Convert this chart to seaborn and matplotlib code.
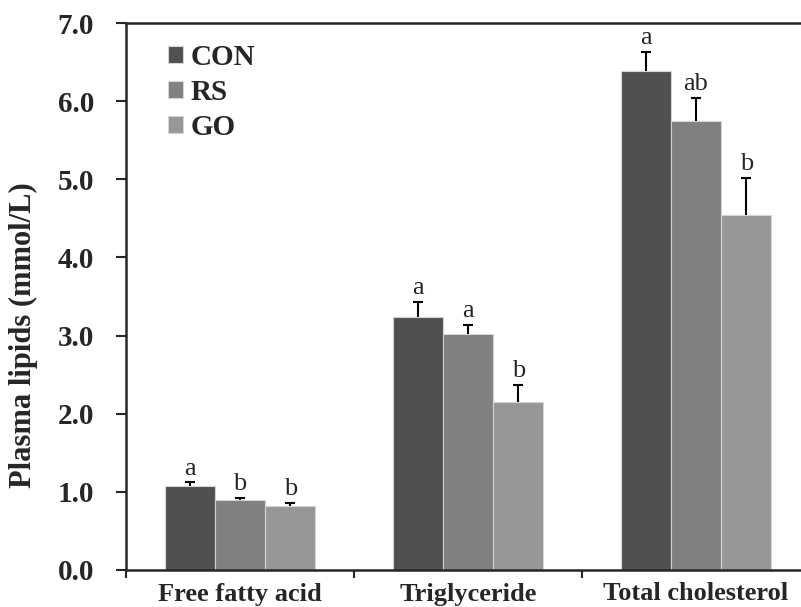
import numpy as np
import pandas as pd
import matplotlib
matplotlib.use('Agg')
import matplotlib.pyplot as plt
import seaborn as sns

lipids = ['Free fatty acid', 'Triglyceride', 'Total cholesterol']
groups = ['CON', 'RS', 'GO']
colors = ['#505050', '#808080', '#979797']

con_mean = [1.07, 3.24, 6.38]
rs_mean = [0.90, 3.02, 5.74]
go_mean = [0.82, 2.15, 4.54]

con_err = [0.05, 0.19, 0.25]
rs_err = [0.02, 0.12, 0.30]
go_err = [0.04, 0.22, 0.48]

con_sig = ['a', 'a', 'a']
rs_sig = ['b', 'a', 'ab']
go_sig = ['b', 'b', 'b']


def main():
    df = pd.DataFrame({
        'lipid': lipids * 3,
        'group': [g for g in groups for _ in lipids],
        'value': con_mean + rs_mean + go_mean,
    })
    errs = [con_err, rs_err, go_err]
    sigs = [con_sig, rs_sig, go_sig]

    sns.set_style('ticks')
    plt.rcParams['font.family'] = ['Liberation Serif', 'DejaVu Serif']

    fig = plt.figure(figsize=(8.01, 6.07), dpi=100)
    ax = fig.add_axes([126 / 801, 37 / 607, 684 / 801, 547 / 607])

    sns.barplot(data=df, x='lipid', y='value', hue='group', order=lipids,
                hue_order=groups, palette=colors, width=0.66, saturation=1,
                errorbar=None, edgecolor='#d4d4d4', linewidth=0.8, ax=ax)

    # upper-only error bars with a cap
    cap = 0.022
    for cont, err, sig in zip(ax.containers, errs, sigs):
        xs = np.array([b.get_x() + b.get_width() / 2 for b in cont])
        hs = np.array([b.get_height() for b in cont])
        tops = hs + np.array(err)
        ax.vlines(xs, hs, tops, colors='black', linewidth=1.5, zorder=3)
        ax.hlines(tops, xs - cap, xs + cap, colors='black', linewidth=1.5, zorder=3)
        for x, t, s in zip(xs, tops, sig):
            ax.annotate(s, (x, t), xytext=(0, 2), textcoords='offset points',
                        ha='center', va='bottom', fontsize=19)

    ax.set_xlim(-0.5, 2.5)
    ax.set_ylim(0, 7)
    ax.set_yticks(np.arange(0, 7.5, 1.0))
    ax.set_yticklabels([f'{v:.1f}' for v in np.arange(0, 7.5, 1.0)])
    ax.set_xticks([-0.5, 0.5, 1.5, 2.5], minor=True)
    ax.tick_params(axis='x', which='major', length=0, pad=9, labelsize=19)
    ax.tick_params(axis='x', which='minor', length=6, width=1.5, direction='out')
    ax.tick_params(axis='y', length=7, width=1.5, direction='out', pad=16, labelsize=21)
    for lab in ax.get_xticklabels() + ax.get_yticklabels():
        lab.set_fontweight('bold')

    for sp in ['left', 'bottom', 'top']:
        ax.spines[sp].set_linewidth(1.8)
        ax.spines[sp].set_visible(True)
    ax.spines['right'].set_visible(False)

    ax.set_xlabel('')
    ax.set_ylabel('Plasma lipids (mmol/L)', fontsize=22, fontweight='bold')
    ax.yaxis.set_label_coords(-0.128, 0.43)

    ax.legend(loc='upper left', bbox_to_anchor=(0.061, 0.962), frameon=False,
              prop={'size': 21, 'weight': 'bold'}, handlelength=0.53,
              handleheight=0.53, handletextpad=0.25, labelspacing=0.28,
              borderpad=0, borderaxespad=0)

    fig.savefig('out.png', dpi=100)


if __name__ == '__main__':
    main()
